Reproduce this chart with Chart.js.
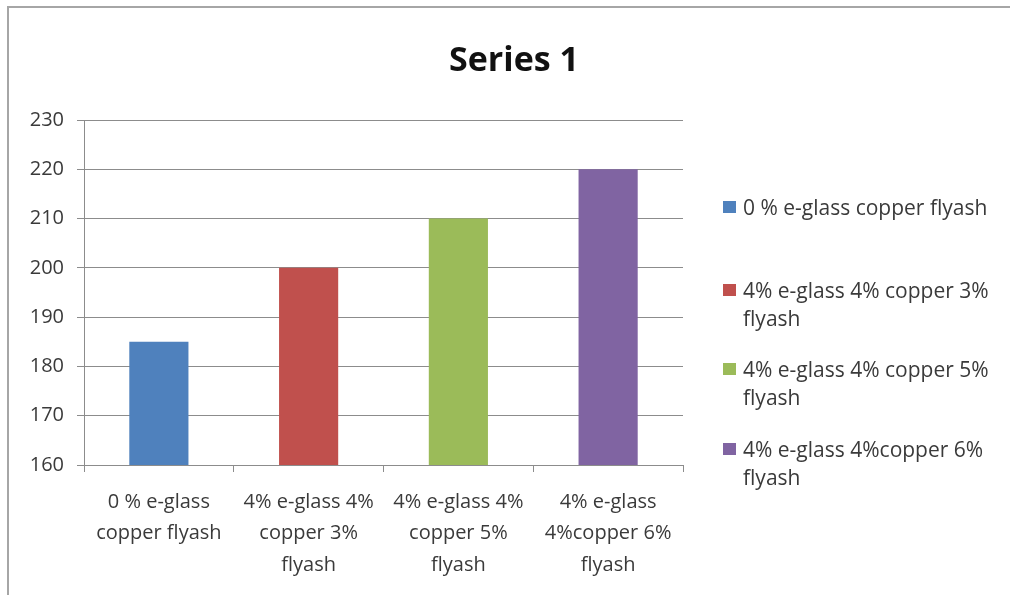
<!DOCTYPE html>
<html>
<head>
<meta charset="utf-8">
<script src="https://cdn.jsdelivr.net/npm/chart.js@4"></script>
<style>
  html, body { margin: 0; padding: 0; background: #fff; overflow: hidden; }
  #wrap { position: relative; width: 1010px; height: 595px; overflow: hidden; font-family: "Open Sans", sans-serif; }
  #frame { position: absolute; left: 7px; top: 6px; width: 1100px; height: 700px; border-top: 2px solid #a6a6a6; border-left: 2px solid #a6a6a6; }
  #title { position: absolute; left: 0; width: 1028px; top: 35px; text-align: center; font-size: 34px; line-height: 46px; font-weight: bold; color: #111; }
  #legend { position: absolute; left: 723px; top: 193px; width: 287px; color: #3a3a3a; font-size: 21px; line-height: 28px; }
  #legend .item { position: absolute; left: 0; padding-left: 20px; white-space: nowrap; }
  #legend .sw { position: absolute; left: 0; top: 8px; width: 13px; height: 12px; }
  canvas { position: absolute; left: 0; top: 0; }
</style>
</head>
<body>
<div id="wrap">
  <div id="frame"></div>
  <canvas id="chart" width="1010" height="595"></canvas>
  <div id="title">Series 1</div>
  <div id="legend"></div>
</div>
<script>
// Kategoriyalar (x o'qi yorliqlari, qatorlarga bo'lingan)
const categories = [
  ["0 % e-glass", "copper flyash"],
  ["4% e-glass 4%", "copper 3%", "flyash"],
  ["4% e-glass 4%", "copper 5%", "flyash"],
  ["4% e-glass", "4%copper 6%", "flyash"]
];
// Legend matnlari
const legendLabels = [
  ["0 % e-glass copper flyash"],
  ["4% e-glass 4% copper 3%", "flyash"],
  ["4% e-glass 4% copper 5%", "flyash"],
  ["4% e-glass 4%copper 6%", "flyash"]
];
const values = [185, 200, 210, 220];
const barColors = ["#4f81bd", "#c0504d", "#9bbb59", "#8064a2"];
const yMin = 160, yMax = 230, yStep = 10;

// ----------- LEGEND -----------
const legendEl = document.getElementById('legend');
const legendTops = [0, 83, 162, 242];
legendLabels.forEach((lines, i) => {
  const item = document.createElement('div');
  item.className = 'item';
  item.style.top = legendTops[i] + 'px';
  item.innerHTML = '<span class="sw" style="background:' + barColors[i] + '"></span>' + lines.join('<br>');
  legendEl.appendChild(item);
});

// ----------- BAR CHART -----------
const ctx = document.getElementById('chart').getContext('2d');
new Chart(ctx, {
  type: 'bar',
  data: {
    labels: categories,
    datasets: [{
      label: 'Series 1',
      data: values,
      backgroundColor: barColors,
      barPercentage: 0.79,
      categoryPercentage: 0.5
    }]
  },
  options: {
    responsive: false,
    animation: false,
    layout: { padding: { left: 10, top: 120, right: 327, bottom: 0 } },
    plugins: { legend: { display: false }, title: { display: false }, tooltip: { enabled: false } },
    scales: {
      x: {
        afterFit: s => { s.height = 130; },
        grid: { offset: true, drawOnChartArea: false, tickLength: 7, color: '#8c8c8c' },
        border: { color: '#8c8c8c', width: 1 },
        ticks: { color: '#3a3a3a', font: { family: 'Open Sans', size: 20, lineHeight: 1.58 }, padding: 14, maxRotation: 0, autoSkip: false }
      },
      y: {
        min: yMin,
        max: yMax,
        afterFit: s => { s.width = 74; },
        grid: { tickLength: 7, color: '#8c8c8c' },
        border: { color: '#8c8c8c', width: 1 },
        ticks: { stepSize: yStep, color: '#3a3a3a', font: { family: 'Open Sans', size: 20 }, padding: 13 }
      }
    }
  }
});
</script>
</body>
</html>
